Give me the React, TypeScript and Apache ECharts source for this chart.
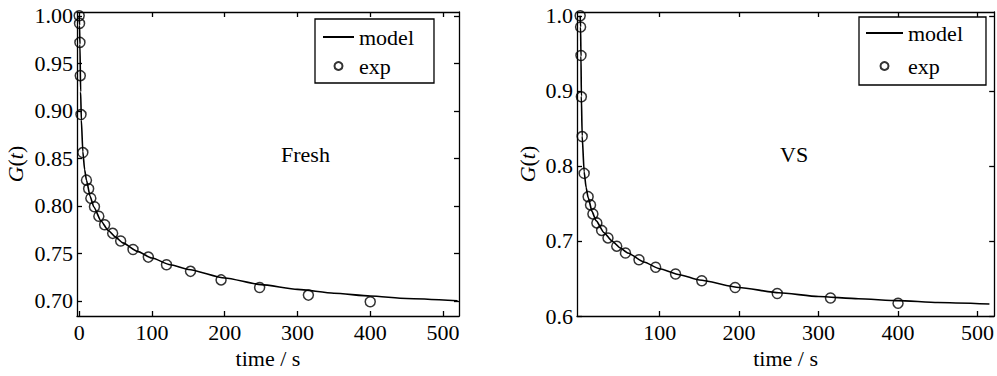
import React, { useEffect, useRef } from 'react';
import * as echarts from 'echarts';

// experimental samples (time in s)
const expTime = [0, 0.5, 1, 1.5, 2.5, 5, 10, 13, 16, 21, 27, 35, 46, 57, 74, 95, 120, 153, 195, 248, 315, 400];
const expFresh = [1.0, 0.992, 0.972, 0.937, 0.896, 0.856, 0.827, 0.818, 0.808, 0.799, 0.789, 0.78, 0.771, 0.763, 0.754, 0.746, 0.738, 0.731, 0.722, 0.714, 0.706, 0.699];
const expVS = [1.0, 0.985, 0.947, 0.892, 0.839, 0.79, 0.759, 0.748, 0.736, 0.724, 0.714, 0.704, 0.693, 0.684, 0.675, 0.665, 0.656, 0.647, 0.638, 0.63, 0.624, 0.617];

// model curves
const modelTimeFresh = [0, 0.5, 1, 2, 3, 5, 7.5, 10, 15, 20, 30, 40, 50, 60, 80, 100, 125, 150, 200, 250, 300, 350, 400, 450, 520];
const modelFresh = [1.0, 0.99, 0.97, 0.92, 0.89, 0.857, 0.838, 0.827, 0.81, 0.799, 0.784, 0.774, 0.767, 0.761, 0.752, 0.745, 0.738, 0.733, 0.724, 0.717, 0.712, 0.708, 0.705, 0.7025, 0.7];
const modelTimeVS = [0, 0.5, 1, 1.5, 2.5, 5, 7.5, 10, 15, 20, 30, 40, 50, 60, 80, 100, 125, 150, 200, 250, 300, 350, 400, 450, 515];
const modelVS = [1.0, 0.985, 0.946, 0.893, 0.84, 0.792, 0.771, 0.758, 0.739, 0.727, 0.711, 0.7, 0.691, 0.684, 0.672, 0.663, 0.655, 0.648, 0.638, 0.631, 0.626, 0.623, 0.6205, 0.618, 0.616];

const xTicksFresh = [0, 100, 200, 300, 400, 500];
const xTicksVS = [100, 200, 300, 400, 500];
const yTicksFresh = [0.7, 0.75, 0.8, 0.85, 0.9, 0.95, 1.0];
const yTicksVS = [0.6, 0.7, 0.8, 0.9, 1.0];

const FONT = 'Liberation Serif';
const FS = 22;

function zip(a: number[], b: number[]) {
  return a.map((v, i) => [v, b[i]]);
}

function buildOption() {
  const axisLine = { show: true, onZero: false, lineStyle: { color: '#000', width: 1.3 } };
  const tick = (vals: number[]) => ({ show: true, inside: true, length: 5, customValues: vals, lineStyle: { color: '#000', width: 1.3 } });
  const lbl = (vals: number[], fmt?: (v: number) => string, margin = 6) => ({
    show: true,
    customValues: vals,
    formatter: fmt,
    color: '#000',
    fontFamily: FONT,
    fontSize: FS,
    margin,
  });
  const nameStyle = { color: '#000', fontFamily: FONT, fontSize: FS };
  const gName = '{it|G}({it|t})';
  const gNameStyle = {
    color: '#000',
    fontFamily: FONT,
    fontSize: FS,
    rich: { it: { fontStyle: 'italic', fontFamily: FONT, fontSize: FS, color: '#000' } },
  };

  const xBase = (grid: number, min: number, max: number) => ({
    type: 'value', gridIndex: grid, min, max, splitLine: { show: false }, axisLine,
  });
  const yBase = (grid: number, min: number, max: number) => ({
    type: 'value', gridIndex: grid, min, max, splitLine: { show: false }, axisLine,
  });

  const legendData = [
    { name: 'model', itemStyle: { opacity: 0 } },
    { name: 'exp' },
  ];

  return {
    animation: false,
    backgroundColor: '#fff',
    grid: [
      { left: 77, top: 12, width: 382, height: 304 },
      { left: 577, top: 12, width: 418, height: 304 },
    ],
    xAxis: [
      { ...xBase(0, -3, 522), position: 'bottom', axisTick: tick(xTicksFresh), axisLabel: lbl(xTicksFresh, (v: number) => String(v), 5), name: 'time / s', nameLocation: 'middle', nameGap: 31, nameTextStyle: nameStyle },
      { ...xBase(0, -3, 522), position: 'top', axisTick: tick(xTicksFresh), axisLabel: { show: false } },
      { ...xBase(1, -4, 521), position: 'bottom', axisTick: tick(xTicksVS), axisLabel: lbl(xTicksVS, (v: number) => String(v), 5), name: 'time / s', nameLocation: 'middle', nameGap: 31, nameTextStyle: nameStyle },
      { ...xBase(1, -4, 521), position: 'top', axisTick: tick(xTicksVS), axisLabel: { show: false } },
    ],
    yAxis: [
      { ...yBase(0, 0.684, 1.004), position: 'left', axisTick: tick(yTicksFresh), axisLabel: lbl(yTicksFresh, (v: number) => v.toFixed(2), 4), name: gName, nameLocation: 'middle', nameRotate: 90, nameGap: 51, nameTextStyle: gNameStyle },
      { ...yBase(0, 0.684, 1.004), position: 'right', axisTick: tick(yTicksFresh), axisLabel: { show: false } },
      { ...yBase(1, 0.6, 1.005), position: 'left', axisTick: tick(yTicksVS), axisLabel: lbl(yTicksVS, (v: number) => v.toFixed(1), 4), name: gName, nameLocation: 'middle', nameRotate: 90, nameGap: 39, nameTextStyle: gNameStyle },
      { ...yBase(1, 0.6, 1.005), position: 'right', axisTick: tick(yTicksVS), axisLabel: { show: false } },
    ],
    legend: [
      {
        left: 315, top: 19, orient: 'vertical', padding: [7, 20, 6, 7], itemGap: 7,
        itemWidth: 31, itemHeight: 8, borderColor: '#000', borderWidth: 1.3, backgroundColor: '#fff',
        textStyle: { color: '#000', fontFamily: FONT, fontSize: FS },
        data: legendData,
        selectedMode: false,
      },
      {
        left: 859, top: 17, orient: 'vertical', padding: [5, 23, 8, 6], itemGap: 11,
        itemWidth: 37, itemHeight: 8, borderColor: '#000', borderWidth: 1.3, backgroundColor: '#fff',
        textStyle: { color: '#000', fontFamily: FONT, fontSize: FS },
        data: legendData,
        selectedMode: false,
      },
    ],
    graphic: [
      { type: 'text', left: 281, top: 143, style: { text: 'Fresh', fontFamily: FONT, fontSize: FS, fill: '#000' } },
      { type: 'text', left: 780, top: 143, style: { text: 'VS', fontFamily: FONT, fontSize: FS, fill: '#000' } },
    ],
    series: [
      {
        name: 'model', type: 'line', xAxisIndex: 0, yAxisIndex: 0, data: zip(modelTimeFresh, modelFresh),
        showSymbol: false, symbol: 'none', smooth: 0.2, smoothMonotone: 'x',
        lineStyle: { color: '#000', width: 1.6 }, itemStyle: { color: '#000' },
      },
      {
        name: 'exp', type: 'scatter', xAxisIndex: 0, yAxisIndex: 0, data: zip(expTime, expFresh),
        symbol: 'circle', symbolSize: 10, clip: false,
        itemStyle: { color: 'rgba(0,0,0,0)', borderColor: '#000', borderWidth: 1.5 },
      },
      {
        name: 'model', type: 'line', xAxisIndex: 2, yAxisIndex: 2, data: zip(modelTimeVS, modelVS),
        showSymbol: false, symbol: 'none', smooth: 0.2, smoothMonotone: 'x',
        lineStyle: { color: '#000', width: 1.6 }, itemStyle: { color: '#000' },
      },
      {
        name: 'exp', type: 'scatter', xAxisIndex: 2, yAxisIndex: 2, data: zip(expTime, expVS),
        symbol: 'circle', symbolSize: 10, clip: false,
        itemStyle: { color: 'rgba(0,0,0,0)', borderColor: '#000', borderWidth: 1.5 },
      },
    ],
  };
}

export default function App() {
  const ref = useRef<HTMLDivElement>(null);
  useEffect(() => {
    if (!ref.current) return;
    const chart = echarts.init(ref.current, null, { renderer: 'svg' });
    chart.setOption(buildOption() as any);
    return () => chart.dispose();
  }, []);
  return (
    <div
      ref={ref}
      style={{ position: 'fixed', left: 0, top: 0, width: 997, height: 376, background: '#fff' }}
    />
  );
}
